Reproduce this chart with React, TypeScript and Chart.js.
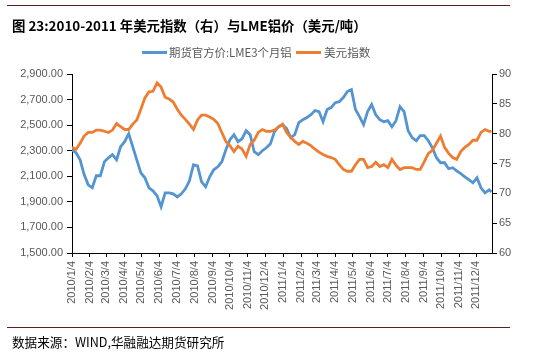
import React, { useEffect, useRef } from "react";
import { Chart, registerables } from "chart.js";

Chart.register(...registerables);

const titleText = "图 23:2010-2011 年美元指数（右）与LME铝价（美元/吨）";
const sourceText = "数据来源：WIND,华融融达期货研究所";
const seriesNames = ["期货官方价:LME3个月铝", "美元指数"];
const seriesColors = ["#5394d1", "#ed7d31"];

const startDate = "2010-01-04";
const lastDate = "2011-12-30";
const axisEndDate = "2011-12-31";

const tickLabels = [
  "2010/1/4", "2010/2/4", "2010/3/4", "2010/4/4", "2010/5/4", "2010/6/4",
  "2010/7/4", "2010/8/4", "2010/9/4", "2010/10/4", "2010/11/4", "2010/12/4",
  "2011/1/4", "2011/2/4", "2011/3/4", "2011/4/4", "2011/5/4", "2011/6/4",
  "2011/7/4", "2011/8/4", "2011/9/4", "2011/10/4", "2011/11/4", "2011/12/4",
];

// weekly readings from 2010-01-04, last one on 2011-12-30
const lmeAluminium = [
  2308, 2284, 2229, 2113, 2033, 2010, 2104, 2104, 2214, 2245,
  2269, 2229, 2331, 2371, 2433, 2331, 2229, 2127, 2088, 2010,
  1986, 1947, 1862, 1971, 1971, 1963, 1939, 1963, 2002, 2065,
  2190, 2182, 2057, 2018, 2096, 2151, 2174, 2214, 2308, 2386,
  2425, 2371, 2394, 2457, 2425, 2292, 2269, 2300, 2323, 2355,
  2449, 2488, 2504, 2473, 2402, 2425, 2520, 2543, 2559, 2582,
  2614, 2606, 2527, 2622, 2637, 2676, 2684, 2716, 2763, 2778,
  2622, 2567, 2504, 2606, 2661, 2582, 2543, 2527, 2535, 2488,
  2535, 2645, 2606, 2457, 2402, 2378, 2418, 2418, 2378, 2323,
  2245, 2206, 2206, 2159, 2167, 2143, 2120, 2096, 2073, 2049,
  2088, 2010, 1971, 1994, 1978,
];

const usdIndex = [
  77.7, 77.4, 78.4, 79.6, 80.2, 80.2, 80.6, 80.6, 80.4, 80.2,
  80.6, 81.7, 81.2, 80.7, 80.7, 81.6, 82.3, 84.1, 86.0, 87.0,
  87.1, 88.5, 87.8, 86.1, 85.8, 85.3, 84.1, 83.1, 82.4, 81.6,
  80.7, 82.3, 83.1, 83.1, 82.8, 82.4, 81.7, 80.2, 78.7, 78.0,
  77.0, 77.9, 77.4, 76.2, 78.2, 78.9, 80.2, 80.7, 80.4, 80.4,
  80.6, 81.1, 81.6, 80.2, 79.4, 78.7, 78.2, 78.7, 78.4, 78.0,
  77.4, 76.9, 76.5, 76.2, 76.0, 75.7, 74.8, 74.0, 73.7, 73.7,
  74.8, 75.7, 75.7, 74.3, 74.5, 75.2, 74.5, 74.8, 74.3, 75.7,
  74.7, 74.0, 74.3, 74.3, 74.3, 74.0, 74.0, 75.3, 76.7, 77.2,
  78.4, 79.6, 77.7, 76.7, 76.0, 75.7, 77.0, 77.7, 78.2, 78.9,
  78.9, 80.2, 80.7, 80.4, 80.4,
];

const leftRange = [1500, 2900, 200];
const rightRange = [60, 90, 5];

const DAY = 86400000;
function utc(d: string): number {
  const p = d.split(/[-/]/).map(Number);
  return Date.UTC(p[0], p[1] - 1, p[2]);
}
function dayOf(d: string): number {
  return Math.round((utc(d) - utc(startDate)) / DAY);
}
function pointDays(n: number): number[] {
  const out: number[] = [];
  for (let i = 0; i < n; i++) {
    out.push(i === n - 1 ? dayOf(lastDate) : i * 7);
  }
  return out;
}

const tickFont = { family: "'Liberation Sans', Arial, sans-serif", size: 11 };
const tickColor = "#595959";

export default function App() {
  const ref = useRef<HTMLCanvasElement | null>(null);

  useEffect(() => {
    if (!ref.current) return;
    const days = pointDays(lmeAluminium.length);
    const chart = new Chart(ref.current, {
      type: "line",
      data: {
        datasets: [
          {
            label: seriesNames[0],
            data: lmeAluminium.map((v, i) => ({ x: days[i], y: v })),
            borderColor: seriesColors[0],
            backgroundColor: seriesColors[0],
            borderWidth: 2.8,
            pointRadius: 0,
            yAxisID: "y",
            order: 1,
          },
          {
            label: seriesNames[1],
            data: usdIndex.map((v, i) => ({ x: days[i], y: v })),
            borderColor: seriesColors[1],
            backgroundColor: seriesColors[1],
            borderWidth: 2.8,
            pointRadius: 0,
            yAxisID: "y1",
            order: 0,
          },
        ],
      },
      options: {
        responsive: false,
        animation: false,
        devicePixelRatio: 1,
        layout: { padding: { top: 74, left: 0, right: 0, bottom: 0 } },
        plugins: {
          legend: { display: false },
          tooltip: { enabled: false },
        },
        scales: {
          x: {
            type: "linear",
            min: 0,
            max: dayOf(axisEndDate),
            afterBuildTicks: (scale: any) => {
              scale.ticks = tickLabels.map((l) => ({ value: dayOf(l) }));
            },
            afterFit: (scale: any) => {
              scale.height = 101;
            },
            ticks: {
              autoSkip: false,
              maxRotation: 90,
              minRotation: 90,
              padding: 4,
              color: tickColor,
              font: tickFont,
              callback: (_v: any, i: number) => tickLabels[i],
            },
            grid: { drawOnChartArea: false, drawTicks: true, tickLength: 4, color: "#000" },
            border: { display: true, color: "#000", width: 1 },
          },
          y: {
            position: "left",
            min: leftRange[0],
            max: leftRange[1],
            afterFit: (scale: any) => {
              scale.width = 72;
            },
            ticks: {
              stepSize: leftRange[2],
              padding: 4,
              color: tickColor,
              font: tickFont,
              callback: (v: any) =>
                Number(v).toLocaleString("en-US", { minimumFractionDigits: 2, maximumFractionDigits: 2 }),
            },
            grid: { drawOnChartArea: false, drawTicks: true, tickLength: 5, color: "#000" },
            border: { display: true, color: "#000", width: 1 },
          },
          y1: {
            position: "right",
            min: rightRange[0],
            max: rightRange[1],
            afterFit: (scale: any) => {
              scale.width = 48;
            },
            ticks: {
              stepSize: rightRange[2],
              padding: 2,
              color: tickColor,
              font: tickFont,
            },
            grid: { drawOnChartArea: false, drawTicks: true, tickLength: 5, color: "#000" },
            border: { display: true, color: "#000", width: 1 },
          },
        },
      },
    } as any);
    return () => chart.destroy();
  }, []);

  const cjk = "'Noto Sans CJK SC', 'Noto Sans', sans-serif";
  const abs = (s: React.CSSProperties): React.CSSProperties => ({ position: "absolute", ...s });

  return (
    <div style={{ position: "fixed", left: 0, top: 0, width: 540, height: 354, background: "#fff", overflow: "hidden" }}>
      <canvas ref={ref} width={540} height={354} style={abs({ left: 0, top: 0, width: 540, height: 354 })} />
      <div style={abs({ left: 7, top: 5, width: 503, height: 0, borderTop: "1.5px solid #5a2020" })} />
      <div style={abs({ left: 12, top: 17, fontFamily: cjk, fontWeight: 700, fontSize: 13.4, lineHeight: "17px", color: "#000", whiteSpace: "nowrap" })}>
        {titleText}
      </div>
      <div style={abs({ left: 142, top: 51, width: 25, height: 3, background: seriesColors[0] })} />
      <div style={abs({ left: 169, top: 44, fontFamily: cjk, fontSize: 11.4, lineHeight: "16px", color: "#595959", whiteSpace: "nowrap" })}>
        {seriesNames[0]}
      </div>
      <div style={abs({ left: 296, top: 51, width: 25, height: 3, background: seriesColors[1] })} />
      <div style={abs({ left: 324, top: 44, fontFamily: cjk, fontSize: 11.6, lineHeight: "16px", color: "#595959", whiteSpace: "nowrap" })}>
        {seriesNames[1]}
      </div>
      <div style={abs({ left: 7, top: 327, width: 503, height: 0, borderTop: "1.5px solid #5a2020" })} />
      <div style={abs({ left: 12, top: 334, fontFamily: cjk, fontSize: 12.6, lineHeight: "16px", color: "#000", whiteSpace: "nowrap" })}>
        {sourceText}
      </div>
    </div>
  );
}
